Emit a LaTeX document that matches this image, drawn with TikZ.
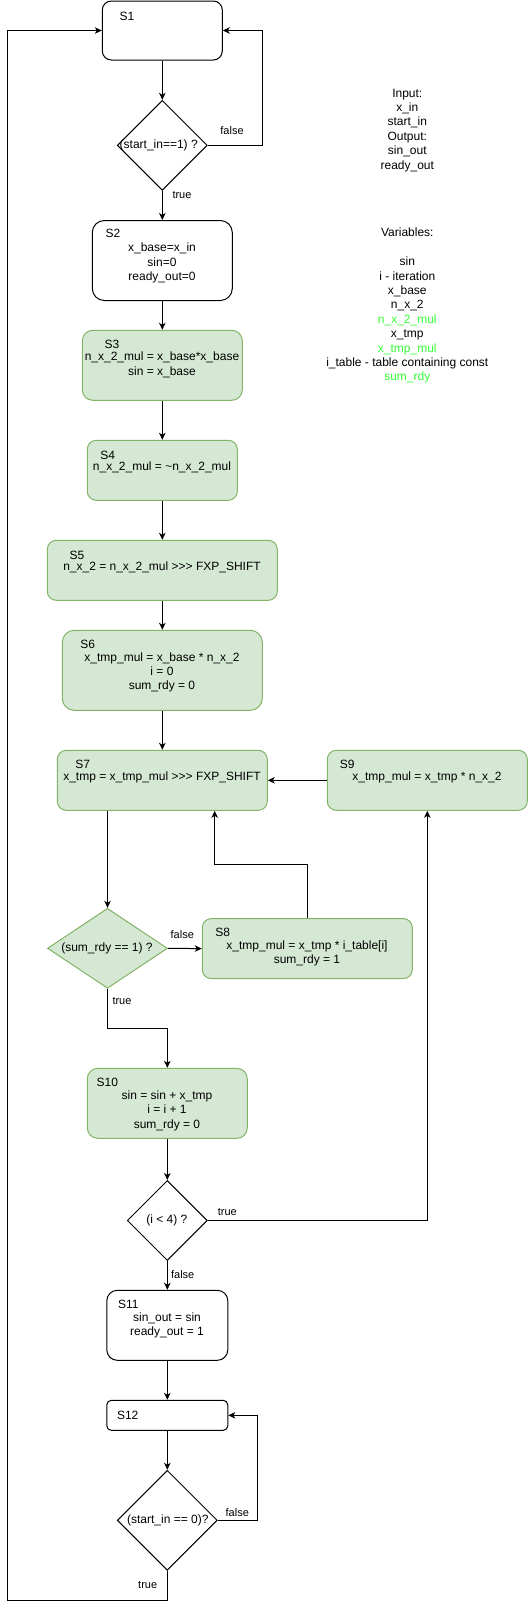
\documentclass[tikz,border=0pt]{standalone}
\usepackage{fontspec}
\setmainfont{Liberation Sans}
\usetikzlibrary{shapes.geometric,arrows.meta}
\definecolor{gfill}{HTML}{D5E8D4}
\definecolor{gline}{HTML}{82B366}
\definecolor{limetext}{HTML}{33FF33}
\begin{document}
\begin{tikzpicture}[x=1pt,y=-1pt,
  sbox/.style={draw=black, fill=white, rounded corners=9pt, line width=1pt, inner sep=0pt},
  gbox/.style={sbox, draw=gline, fill=gfill},
  dia/.style={diamond, draw=black, fill=white, inner sep=0pt, line width=1pt},
  gdia/.style={dia, draw=gline, fill=gfill},
  txt/.style={font=\fontsize{12}{14.4}\selectfont, align=center, inner sep=0pt},
  lbl/.style={font=\fontsize{11}{13}\selectfont, inner sep=0pt},
  arr/.style={-{Stealth[length=7pt,width=6.5pt,inset=2pt]}, line width=1pt}]
\useasboundingbox (0,0) rectangle (528,1609);

% boxes
\node[sbox, minimum width=120pt, minimum height=59pt] (S1) at (162.3,30.5) {};
\node[dia, minimum width=90pt, minimum height=90pt] (D1) at (162.3,145.3) {};
\node[sbox, rounded corners=12pt, minimum width=140pt, minimum height=80pt] (S2) at (162.3,260.5) {};
\node[gbox, rounded corners=10.5pt, minimum width=160pt, minimum height=70pt] (S3) at (162.3,365.3) {};
\node[gbox, minimum width=150pt, minimum height=60pt] (S4) at (162.3,470.3) {};
\node[gbox, minimum width=230pt, minimum height=60pt] (S5) at (162.3,570.3) {};
\node[gbox, rounded corners=12pt, minimum width=200pt, minimum height=80pt] (S6) at (162.3,670.3) {};
\node[gbox, minimum width=210pt, minimum height=60pt] (S7) at (162.3,780.3) {};
\node[gbox, minimum width=200pt, minimum height=60pt] (S9) at (427.3,780.3) {};
\node[gdia, minimum width=120pt, minimum height=80pt] (D2) at (107.5,948.3) {};
\node[gbox, minimum width=210pt, minimum height=60pt] (S8) at (307.3,948.6) {};
\node[gbox, rounded corners=10.5pt, minimum width=160pt, minimum height=70pt] (S10) at (167.3,1103.3) {};
\node[dia, minimum width=80pt, minimum height=80pt] (D3) at (167.3,1220.5) {};
\node[sbox, rounded corners=10.5pt, minimum width=121pt, minimum height=70pt] (S11) at (167.3,1325.3) {};
\node[sbox, rounded corners=4.5pt, minimum width=121pt, minimum height=30pt] (S12) at (167.3,1415.3) {};
\node[dia, minimum width=100pt, minimum height=100pt] (D4) at (167.3,1520.3) {};

% box titles
\node[txt] (S1t) at (127,16) {S1};
\node[txt] (S2t) at (113,233) {S2};
\node[txt] (S3t) at (112,344) {S3};
\node[txt] (S4t) at (107.7,455) {S4};
\node[txt] (S5t) at (77,555) {S5};
\node[txt] (S6t) at (87.7,644) {S6};
\node[txt] (S7t) at (82.7,764.3) {S7};
\node[txt] (S9t) at (347.3,764.3) {S9};
\node[txt] (S8t) at (222.7,932.3) {S8};
\node[txt] (S10t) at (107.3,1082.3) {S10};
\node[txt] (S11t) at (128.3,1304) {S11};
\node[txt] (S12t) at (127.7,1415.7) {S12};

% box bodies
\node[txt] (S2b) at (162,263) {x\_base=x\_in\\sin=0\\ready\_out=0};
\node[txt] (S3b) at (162,365) {n\_x\_2\_mul = x\_base*x\_base\\sin = x\_base};
\node[txt] (S4b) at (162,467.7) {n\_x\_2\_mul = \textasciitilde n\_x\_2\_mul};
\node[txt] (S5b) at (162,567.7) {n\_x\_2 = n\_x\_2\_mul >{}>{}> FXP\_SHIFT};
\node[txt] (S6b) at (162,672.3) {x\_tmp\_mul = x\_base * n\_x\_2\\i = 0\\sum\_rdy = 0};
\node[txt] (S7b) at (162,777.7) {x\_tmp = x\_tmp\_mul >{}>{}> FXP\_SHIFT};
\node[txt] (S9b) at (427,777.7) {x\_tmp\_mul = x\_tmp * n\_x\_2};
\node[txt] (S8b) at (307,953.2) {x\_tmp\_mul = x\_tmp * i\_table[i]\\sum\_rdy = 1};
\node[txt] (S10b) at (167,1110.7) {sin = sin + x\_tmp\\i = i + 1\\sum\_rdy = 0};
\node[txt] (S11b) at (167,1325.3) {sin\_out = sin\\ready\_out = 1};

% diamond texts
\node[txt] (D1t) at (158.7,145.5) {(start\_in==1) ?};
\node[txt] (D2t) at (107,948.3) {(sum\_rdy == 1) ?};
\node[txt] (D3t) at (166.8,1220.3) {(i < 4) ?};
\node[txt] (D4t) at (167.8,1520.3) {(start\_in == 0)?};

% side notes
\node[txt] (io) at (407.3,130.2) {Input:\\x\_in\\start\_in\\Output:\\sin\_out\\ready\_out};
\node[txt] (vars) at (407.3,305.7) {Variables:\\[14.4pt]sin\\i - iteration\\x\_base\\n\_x\_2\\\textcolor{limetext}{n\_x\_2\_mul}\\x\_tmp\\\textcolor{limetext}{x\_tmp\_mul}\\i\_table - table containing const\\\textcolor{limetext}{sum\_rdy}};

% helper coordinates
\coordinate (r1) at (262,0);
\coordinate (c8) at (214.7,864.3);
\coordinate (j2) at (107.5,1028.3);
\coordinate (r4) at (257.3,0);
\coordinate (bl) at (7.3,1600);

% connectors
\draw[arr] (S1.south) -- (D1.north);
\draw[arr] (D1.east) -- (D1.east -| r1) -- (r1 |- S1.east) -- (S1.east);
\draw[arr] (D1.south) -- (S2.north);
\draw[arr] (S2.south) -- (S3.north);
\draw[arr] (S3.south) -- (S4.north);
\draw[arr] (S4.south) -- (S5.north);
\draw[arr] (S5.south) -- (S6.north);
\draw[arr] (S6.south) -- (S7.north);
\draw[arr] (S9.west) -- (S7.east);
\draw[arr] (S7.south -| D2.north) -- (D2.north);
\draw[arr] (D2.east) -- (S8.west);
\draw[arr] (S8.north) |- (c8) -- (c8 |- S7.south);
\draw[arr] (D2.south) -- (j2) -| (S10.north);
\draw[arr] (S10.south) -- (D3.north);
\draw[arr] (D3.east) -| (S9.south);
\draw[arr] (D3.south) -- (S11.north);
\draw[arr] (S11.south) -- (S12.north);
\draw[arr] (S12.south) -- (D4.north);
\draw[arr] (D4.east) -- (D4.east -| r4) -- (r4 |- S12.east) -- (S12.east);
\draw[arr] (D4.south) |- (bl) |- (S1.west);

% connector labels
\node[lbl] (l1) at (232,131) {false};
\node[lbl] (l2) at (182,195) {true};
\node[lbl] (l3) at (182.3,934.3) {false};
\node[lbl] (l4) at (122,1001) {true};
\node[lbl] (l5) at (227.3,1212.3) {true};
\node[lbl] (l6) at (182.7,1275) {false};
\node[lbl] (l7) at (237.3,1512.3) {false};
\node[lbl] (l8) at (147.7,1585) {true};
\end{tikzpicture}
\end{document}
